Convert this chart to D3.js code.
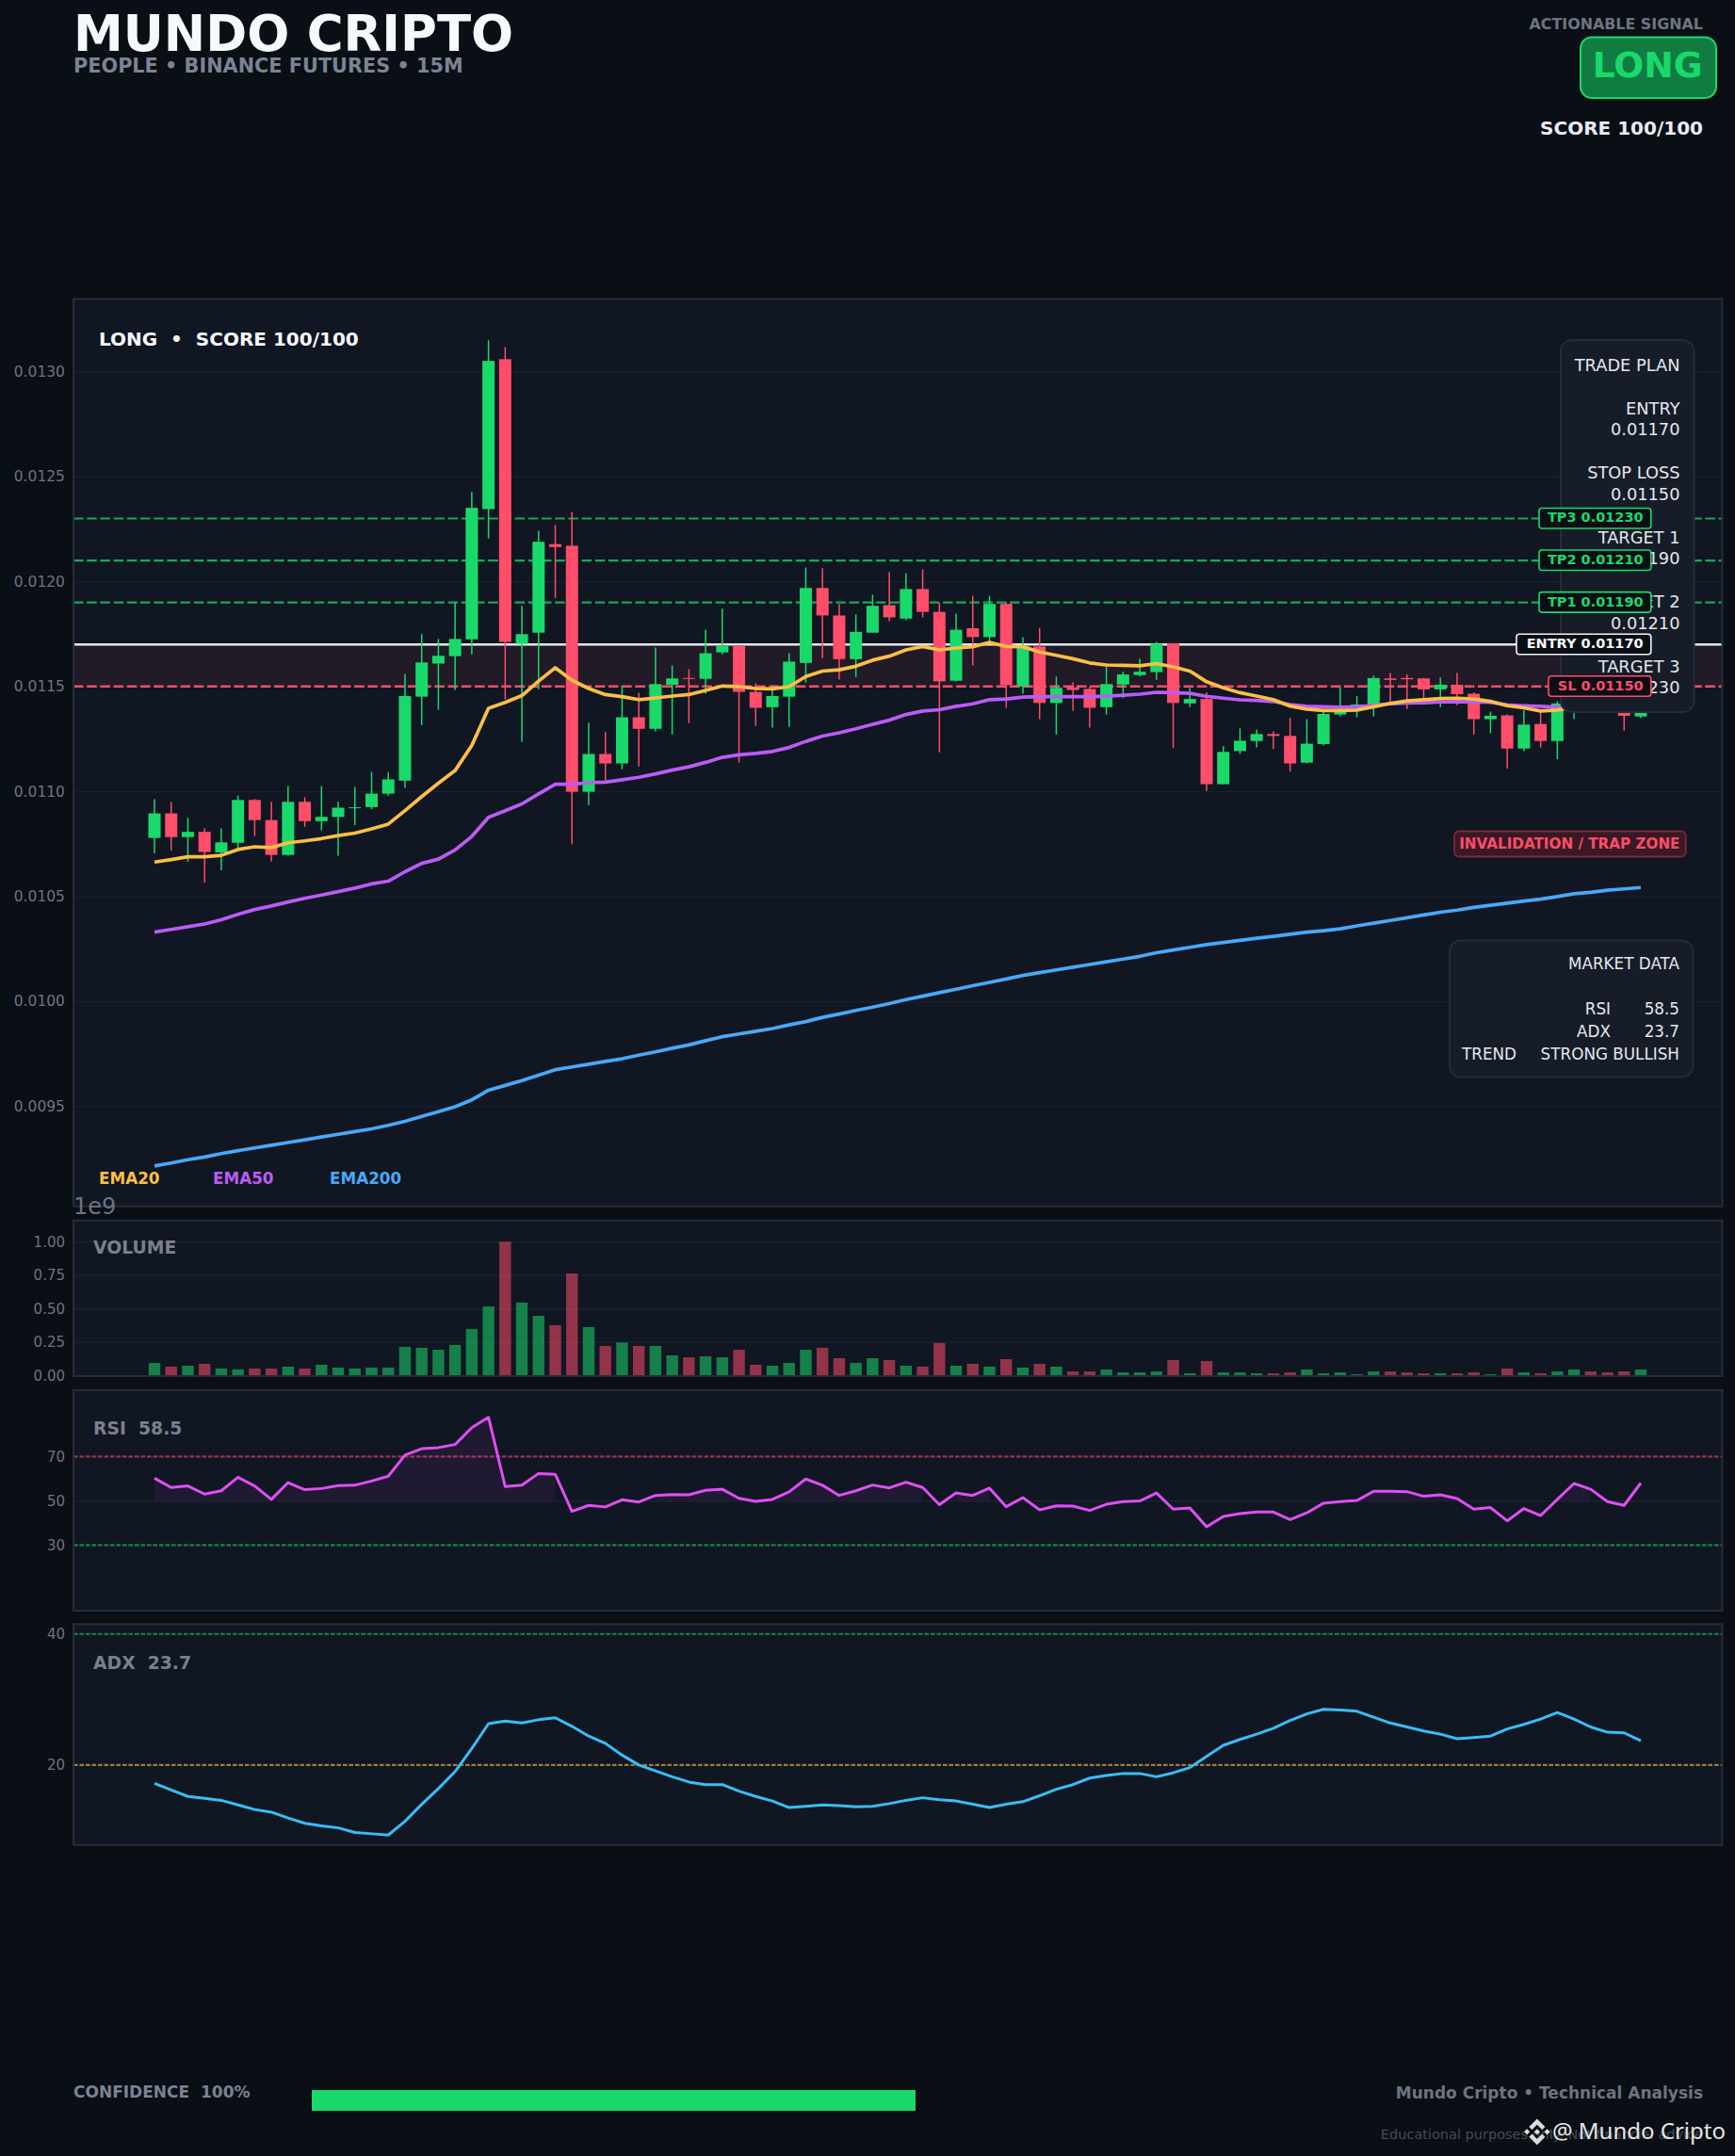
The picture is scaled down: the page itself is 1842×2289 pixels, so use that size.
<!DOCTYPE html>
<html><head><meta charset="utf-8">
<script src="https://cdn.jsdelivr.net/npm/d3@7/dist/d3.min.js"></script>
<style>html,body{margin:0;padding:0;background:#0a0e15}svg{display:block}text{font-family:"DejaVu Sans",sans-serif;white-space:pre}</style>
</head><body><svg id="c" width="1842" height="2289"></svg>
<script>
// prices are given in units of 0.00001
const toPrice = v => v / 1e5;
const open = [1077.8,1089.5,1078.2,1080.7,1070.9,1075.5,1095.9,1086.3,1069.7,1095,
1085.8,1087.8,1092,1092.5,1098.9,1105.1,1145.1,1160.9,1164.4,1172.4,
1234.5,1305.9,1170.3,1175.6,1217.8,1217,1099.8,1117.8,1113.3,1135.3,
1129.8,1150.8,1154,1153.6,1166.2,1169.2,1147.4,1140.1,1145.1,1161.2,
1196.9,1183.8,1163,1175.6,1188.7,1182.3,1196.4,1185.5,1152.7,1177.7,
1173.5,1189.3,1150,1169,1142.1,1149.5,1148.8,1140.1,1150.9,1155.4,
1156.8,1170.6,1141.9,1144,1103.4,1119.2,1124,1127.3,1126.4,1113.7,
1122.5,1136.6,1140.6,1141,1153.8,1154,1153.8,1148.6,1150.8,1146.5,
1134.4,1136.2,1120.4,1132.1,1124,1138.3,1147.2,1143.6,1140.1,1135.7].map(toPrice);
const close = [1089.5,1078.2,1080.7,1071.1,1075.7,1095.9,1086.3,1069.7,1095,1085.8,
1087.8,1092.2,1092.4,1098.9,1105.7,1145.4,1161.4,1164.6,1172.6,1235.1,
1305.1,1171.2,1174.9,1218.9,1216.4,1099.8,1117.8,1113.3,1135.3,1129.8,
1151.1,1153.8,1153.6,1165.8,1169.4,1147.4,1139.8,1145.4,1161.8,1196.9,
1183.8,1163,1176,1188.4,1182.9,1196.4,1185.5,1152.4,1177,1173.5,
1189.3,1150.6,1169,1142.1,1149.3,1148.3,1139.8,1151.1,1155.7,1157,
1170.3,1142.1,1144,1103.4,1118.8,1124.1,1127.3,1126.4,1113.3,1122.7,
1136.9,1138.3,1141.4,1154,1153.1,1153.4,1148.6,1150.8,1146.3,1134.4,
1136,1120.4,1131.8,1124,1141.9,1147.2,1143.6,1140.1,1136,1141.9].map(toPrice);
const high = [1096.3,1095,1087.4,1082.4,1082.4,1098,1096.3,1095,1102.5,1097.2,
1102.5,1095,1102.1,1109.2,1109.2,1155.9,1174.9,1172.6,1190.2,1242.7,
1314.9,1311.7,1188.4,1224.2,1226.9,1233.1,1132.7,1128.2,1150.2,1147,
1168.5,1160,1158.2,1177,1187,1169.4,1151.5,1150.6,1165.8,1206.7,
1206.3,1189.3,1184.3,1193.7,1204.5,1204,1205.8,1189.8,1184.7,1193.2,
1193.2,1190.2,1173.5,1177.9,1154.7,1152,1149.9,1159.6,1157,1163.2,
1171.2,1170.6,1149.3,1147.2,1121.5,1130,1129.5,1128.6,1135.1,1134.4,
1138.3,1149.5,1145.4,1155.2,1156.4,1155.7,1154,1154.3,1156.4,1147.2,
1138,1136.6,1138.7,1138.3,1142.9,1150.8,1149,1145.4,1141.9,1145.4].map(toPrice);
const low = [1070.5,1071.8,1066.5,1056.5,1062.4,1071.8,1078.7,1066.5,1069.3,1083.1,
1081.4,1069.3,1083.9,1091.5,1097.9,1101.6,1131.6,1138.9,1148.3,1165.3,
1220.5,1143.8,1123.6,1148.6,1192.1,1074.8,1093.4,1104.6,1110.5,1111.9,
1128.6,1127.1,1132.5,1146.5,1165.3,1113.7,1131.2,1130.4,1130.7,1151.8,
1163.5,1153.2,1154.5,1175.6,1181.1,1181.5,1182.9,1118.6,1152.4,1160,
1170.3,1139.8,1146.5,1134.4,1127.1,1138.3,1130.4,1136.6,1144.4,1154.8,
1153.1,1120.6,1140.1,1100.2,1103.4,1117.8,1120.9,1120.1,1109.4,1113.3,
1121.8,1135.7,1135.3,1135.7,1142.2,1139.2,1144,1140.1,1141,1127.1,
1127.7,1110.8,1119.2,1120.9,1115.3,1134.4,1141,1138.3,1128.9,1134.8].map(toPrice);
const ema20 = [1066.3,1067.5,1068.8,1068.8,1069.5,1072.3,1073.6,1073.2,1075.5,1076.4,
1077.5,1078.9,1080.1,1082.1,1084.4,1090.8,1097.5,1103.9,1109.9,1121.8,
1139.6,1142.4,1145.6,1152.5,1158.9,1152.9,1149,1146.1,1145.1,1143.7,
1144.5,1145.4,1146.1,1148.1,1150.2,1149.9,1149,1148.8,1149.9,1154.7,
1157.3,1157.9,1159.6,1162.5,1164.4,1167.4,1169,1167.4,1168.3,1168.9,
1171,1169,1168.9,1166.4,1164.8,1163.2,1161.2,1160.2,1160,1159.8,
1160.9,1159.3,1157.3,1152.2,1149.3,1147,1145.4,1143.7,1140.6,1139.2,
1138.5,1138.5,1138.7,1140.3,1141.9,1143.1,1143.7,1144.2,1144.4,1144,
1142.9,1140.8,1139.8,1138.3,1138.7,1140.2,1141,1141.3,1141.6,1142].map(toPrice);
const ema50 = [1032.9,1034.2,1035.5,1036.8,1038.8,1041.4,1043.7,1045.4,1047.3,1049,
1050.6,1052.2,1053.9,1055.9,1057.2,1061.7,1065.7,1067.7,1072.1,1078.5,
1087.6,1090.8,1094,1098.8,1103.4,1103.4,1104.1,1104.4,1105.5,1106.7,
1108.3,1110.1,1111.7,1113.8,1116.2,1117.4,1118.1,1119,1120.9,1123.8,
1126.3,1127.9,1129.8,1131.9,1133.9,1136.6,1138.3,1138.9,1140.5,1141.7,
1143.7,1144,1144.9,1145.1,1145.1,1145.1,1145.1,1145.3,1145.8,1146.3,
1147.2,1147,1146.7,1145.3,1144.4,1143.6,1143.3,1142.8,1141.3,1140.5,
1140.3,1140.1,1140.3,1141,1141.7,1142.1,1142.2,1142.6,1142.8,1142.6,
1142.4,1141.2,1140.8,1140.5,1140.1,1140.2,1140.4,1140.6,1140.8,1141].map(toPrice);
const ema200 = [921.5,922.9,924.5,925.8,927.4,928.8,930.1,931.4,932.7,934,
935.3,936.6,937.9,939.2,940.9,942.8,945.1,947.4,949.7,953,
957.6,959.9,962.2,964.8,967.4,968.7,970,971.3,972.6,974.3,
975.9,977.6,979.2,981.2,983.1,984.4,985.7,987,988.7,990.3,
992.3,993.9,995.6,997.2,998.9,1000.8,1002.4,1004.1,1005.7,1007.4,
1009,1010.6,1012.3,1013.6,1014.9,1016.2,1017.5,1018.8,1020.1,1021.4,
1023.1,1024.4,1025.7,1027,1028,1029,1030,1030.9,1031.9,1032.9,
1033.6,1034.5,1035.9,1037.2,1038.5,1039.8,1041.1,1042.4,1043.4,1044.7,
1045.7,1046.7,1047.7,1048.6,1049.9,1051.2,1051.9,1052.9,1053.5,1054.2].map(toPrice);
// volume in units of 1e9
const volume = [.094,.066,.073,.087,.052,.045,.052,.052,.066,.052,
.08,.059,.052,.059,.059,.214,.207,.192,.228,.347,
.516,1.0,.545,.446,.376,.763,.362,.221,.246,.221,
.221,.15,.136,.143,.136,.192,.08,.073,.094,.192,
.207,.129,.094,.129,.115,.073,.066,.242,.073,.087,
.066,.122,.059,.087,.066,.03,.03,.045,.023,.023,
.03,.115,.016,.108,.023,.023,.016,.016,.023,.045,
.016,.023,.009,.03,.03,.023,.016,.016,.016,.023,
.009,.052,.023,.016,.03,.045,.03,.023,.03,.045];
const rsi = [60.2,56,56.7,53,54.5,60.6,56.7,50.6,58.2,55,
55.5,56.8,57,58.9,61.1,70.6,73.5,74,75.4,83,
87.7,56.4,57,62.3,61.9,45.2,47.9,47.2,50.4,49.4,
52.4,52.8,52.7,54.7,55.2,51.1,49.7,50.6,54,59.8,
57,52.4,54.5,57.1,55.8,58.4,56,48.2,53.5,52.4,
55.7,47.3,51.4,45.9,47.7,47.6,45.6,48.4,49.6,49.9,
53.5,46.2,46.7,38.2,42.9,44.2,44.9,44.9,41.5,44.5,
48.9,49.6,50.1,54.3,54.3,54.1,52,52.7,51,46.2,
46.9,40.9,46.5,43.3,50.6,57.8,55.2,49.6,47.9,58];
const adx = [17.2,16.2,15.2,14.9,14.6,13.9,13.2,12.8,11.9,11.1,
10.7,10.4,9.7,9.5,9.3,11.4,14,16.4,19,22.5,
26.3,26.7,26.4,26.9,27.2,25.9,24.4,23.3,21.5,20,
19.1,18.2,17.4,17,17,16,15.2,14.5,13.5,13.7,
13.9,13.8,13.6,13.7,14.1,14.6,15,14.7,14.5,14,
13.5,14,14.4,15.3,16.3,17,18,18.4,18.7,18.7,
18.2,18.8,19.6,21.3,23,23.9,24.7,25.6,26.8,27.8,
28.5,28.4,28.2,27.3,26.4,25.8,25.2,24.7,24,24.2,
24.4,25.5,26.2,27,28,27,25.8,25,24.9,23.7];
const priceTicks = [0.0095,0.0100,0.0105,0.0110,0.0115,0.0120,0.0125,0.0130];
const volumeTicks = [0,0.25,0.5,0.75,1];
const rsiTicks = [30,50,70];
const adxTicks = [20,40];
const entry = 0.0117, stopLoss = 0.0115, targets = [0.0119,0.0121,0.0123];
const labelTexts = ["TP1 0.01190","TP2 0.01210","TP3 0.01230"];
const planLines = ["TRADE PLAN","","ENTRY","0.01170","","STOP LOSS","0.01150","","TARGET 1","0.01190","","TARGET 2","0.01210","","TARGET 3","0.01230"];
const legendNames = ["EMA20","EMA50","EMA200"];

const FIG="#0a0e15",PANEL="#101622",EDGE="#262c39",GRID="#1a202c",TICK="#6e7480",MUTED="#7a808c",
 GREEN="#19d96b",RED="#ff4d6a",WHITE="#f5f8fd",YEL="#fbbf45",PUR="#bb5cf6",BLU="#48a9f8",
 BOX="#161c28",BOXE="#252b38";
const L=78,R=1828.5;
const svg=d3.select("#c");
svg.append("rect").attr("width",1842).attr("height",2289).attr("fill",FIG);
const x=d3.scaleLinear().domain([0,89]).range([164,1742]);
const idx=d3.range(open.length);

function panel(name,top,bot,y,ticks,fmt,fs){
  svg.append("clipPath").attr("id","clip"+name).append("rect").attr("x",L).attr("y",top).attr("width",R-L).attr("height",bot-top);
  svg.append("rect").attr("x",L).attr("y",top).attr("width",R-L).attr("height",bot-top).attr("fill",PANEL);
  const ax=svg.append("g").attr("transform",`translate(${L},0)`)
    .call(d3.axisLeft(y).tickValues(ticks).tickFormat(fmt).tickSize(-(R-L)).tickPadding(9));
  ax.select(".domain").remove();
  ax.selectAll(".tick line").attr("stroke",GRID).attr("stroke-width",1.4);
  ax.selectAll(".tick text").attr("fill",TICK).attr("font-size",fs||15.5).attr("font-family","DejaVu Sans");
  const g=svg.append("g").attr("clip-path",`url(#clip${name})`);
  return {g,frame(){svg.append("rect").attr("x",L).attr("y",top).attr("width",R-L).attr("height",bot-top)
    .attr("fill","none").attr("stroke",EDGE).attr("stroke-width",2);}};
}
function hline(g,y,v,color,w,dash,op){
  g.append("line").attr("x1",L).attr("x2",R).attr("y1",y(v)).attr("y2",y(v))
   .attr("stroke",color).attr("stroke-width",w).attr("stroke-dasharray",dash).attr("opacity",op);
}
function txt(s,xx,yy,size,color,weight,anchor){
  return svg.append("text").text(s).attr("x",xx).attr("y",yy).attr("font-size",size).attr("fill",color)
   .attr("font-weight",weight||"normal").attr("text-anchor",anchor||"start");
}

// Main price panel
const yP=d3.scaleLinear().domain([902.3/1e5,1334.6/1e5]).range([1280.7,317.4]);
const main=panel("P",317.4,1280.7,yP,priceTicks,d3.format(".4f"));
main.g.append("rect").attr("x",L).attr("width",R-L).attr("y",yP(entry)).attr("height",yP(stopLoss)-yP(entry)).attr("fill",RED).attr("opacity",.075);
targets.forEach(t=>hline(main.g,yP,t,GREEN,2.2,"10.5 3.7",.75));
hline(main.g,yP,stopLoss,RED,2.4,"10.5 3.7",1);
hline(main.g,yP,entry,"#f0f3f7",2.6,null,.95);
const col=i=>close[i]>=open[i]?GREEN:RED;
main.g.selectAll(".w").data(idx).join("line").attr("x1",i=>x(i)).attr("x2",i=>x(i))
  .attr("y1",i=>yP(high[i])).attr("y2",i=>yP(low[i])).attr("stroke",col).attr("stroke-width",1.5);
main.g.selectAll(".b").data(idx).join("rect").attr("x",i=>x(i)-6.5).attr("width",13)
  .attr("y",i=>yP(Math.max(open[i],close[i]))).attr("height",i=>Math.max(1,Math.abs(yP(open[i])-yP(close[i])))).attr("fill",col);
const lineOf=(y)=>d3.line().x((d,i)=>x(i)).y(d=>y(d));
[[ema200,BLU],[ema50,PUR],[ema20,YEL]].forEach(([d,c])=>
  main.g.append("path").attr("d",lineOf(yP)(d)).attr("fill","none").attr("stroke",c).attr("stroke-width",3.7).attr("stroke-linejoin","round"));
main.frame();
txt("LONG  •  SCORE 100/100",105,367,20,WHITE,"bold");
[105,226,350].forEach((lx,i)=>txt(legendNames[i],lx,1257,16.8,[YEL,PUR,BLU][i],"bold"));
txt("1e9",78,1289,24,TICK);

// info boxes
function box(x0,y0,x1,y1,r,fill,stroke,sw){svg.append("rect").attr("x",x0).attr("y",y0).attr("width",x1-x0).attr("height",y1-y0)
  .attr("rx",r).attr("fill",fill).attr("stroke",stroke).attr("stroke-width",sw);}
box(1657,361,1798.5,756,12,BOX,BOXE,2);
planLines.forEach((s,i)=>{if(s)txt(s,1783.5,394+i*22.83,17.8,"#e4e8ee","normal","end");});
box(1539,998.5,1797.5,1143.5,12,BOX,BOXE,2);
txt("MARKET DATA",1783,1029,16.8,"#e4e8ee","normal","end");
txt("RSI",1710,1077,16.8,"#e4e8ee","normal","end");txt("58.5",1783,1077,16.8,"#e4e8ee","normal","end");
txt("ADX",1710,1101,16.8,"#e4e8ee","normal","end");txt("23.7",1783,1101,16.8,"#e4e8ee","normal","end");
txt("TREND",1552,1125,16.8,"#e4e8ee");txt("STRONG BULLISH",1783,1125,16.8,"#e4e8ee","normal","end");
// price tags
function tag(v,s,x0,c){const cy=yP(v);box(x0,cy-11,1752.8,cy+10.5,3,FIG,c,1.6);
  txt(s,1744.6,cy+4,14.5,c==="#f0f3f7"?WHITE:c,"bold","end");}
targets.forEach((t,i)=>tag(t,labelTexts[i],1634,GREEN));
tag(entry,"ENTRY 0.01170",1610,"#f0f3f7");
tag(stopLoss,"SL 0.01150",1644,RED);
box(1544,882.5,1789.7,909.5,5,"#3a1824","#7a2a3c",1.8);
txt("INVALIDATION / TRAP ZONE",1783.5,901,15.2,RED,"bold","end");

// Volume
const yV=d3.scaleLinear().domain([0,1.159]).range([1460.3,1295.7]);
const vol=panel("V",1295.7,1461,yV,volumeTicks,d3.format(".2f"),15);
vol.g.selectAll("rect.v").data(idx).join("rect").attr("x",i=>x(i)-6.2).attr("width",12.4)
  .attr("y",i=>yV(volume[i])).attr("height",i=>yV(0)-yV(volume[i])).attr("fill",col).attr("opacity",.55);
vol.frame();
txt("VOLUME",99,1331,18.8,MUTED,"bold");

// RSI
const yR=d3.scaleLinear().domain([0,100]).range([1710.8,1475.8]);
const rs=panel("R",1475.8,1710,yR,rsiTicks,d3.format("d"),15);
hline(rs.g,yR,70,RED,2.2,"4.5 2",.55);
hline(rs.g,yR,30,GREEN,2.2,"4.5 2",.55);
rs.g.append("path").attr("d",d3.area().defined(d=>d>50).x((d,i)=>x(i)).y0(yR(50)).y1(d=>yR(d))(rsi)).attr("fill","#d946ef").attr("opacity",.08);
rs.g.append("path").attr("d",lineOf(yR)(rsi)).attr("fill","none").attr("stroke","#df4ff2").attr("stroke-width",3).attr("stroke-linejoin","round");
rs.frame();
txt("RSI  58.5",99,1523,18.8,MUTED,"bold");

// ADX
const yA=d3.scaleLinear().domain([7.8,41.5]).range([1958.7,1724.3]);
const ad=panel("A",1724.3,1958.7,yA,adxTicks,d3.format("d"),15);
hline(ad.g,yA,40,GREEN,2.2,"4.5 2",.55);
hline(ad.g,yA,20,YEL,2.2,"4.5 2",.6);
ad.g.append("path").attr("d",lineOf(yA)(adx)).attr("fill","none").attr("stroke","#38bdf8").attr("stroke-width",3).attr("stroke-linejoin","round");
ad.frame();
txt("ADX  23.7",99,1772,18.8,MUTED,"bold");

// Header
txt("MUNDO CRIPTO",78,54,53,WHITE,"bold");
txt("PEOPLE • BINANCE FUTURES • 15M",78,77,20.8,"#7a8494","bold");
txt("ACTIONABLE SIGNAL",1808,31,15.9,TICK,"bold","end");
box(1678,39.5,1822,104,12,"#117c42",GREEN,2);
txt("LONG",1807.5,82,37.6,GREEN,"bold","end");
txt("SCORE 100/100",1808,143,20,"#e8ecf4","bold","end");

// Footer
txt("CONFIDENCE  100%",78,2227,17,"#7a8494","bold");
const conf=d3.scaleLinear().domain([0,100]).range([331,972]);
svg.append("rect").attr("x",conf(0)).attr("y",2219).attr("width",conf(100)-conf(0)).attr("height",22).attr("fill",GREEN);
txt("Mundo Cripto • Technical Analysis",1808,2227.5,17,TICK,"bold","end");
txt("Educational purposes only. Not financial advice",1808,2271,14.5,"#454b58","normal","end");
svg.append("path").attr("transform","translate(1618,2249.5) scale(0.219)").attr("fill","#dcdcdc")
 .attr("d","M38.73 53.2l24.59-24.58 24.6 24.6 14.3-14.31L63.32 0 24.43 38.89zM0 63.31l14.3-14.31 14.31 14.31-14.31 14.3zM38.73 73.41l24.59 24.59 24.6-24.6 14.31 14.29-38.9 38.91-38.91-38.88-.02-.02zM98 63.31l14.3-14.31 14.31 14.31-14.3 14.3zM77.83 63.3L63.32 48.78 52.59 59.51l-1.24 1.23-2.54 2.54 14.51 14.5 14.51-14.47z");
txt("@ Mundo Cripto",1832,2271,24,"#e6e6e6","normal","end").attr("style",'font-family:"Noto Sans"');
</script></body></html>
